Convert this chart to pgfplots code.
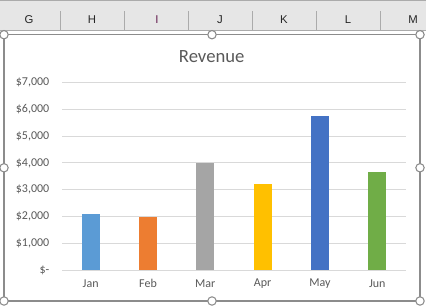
\documentclass[border=0pt]{standalone}
\usepackage{pgfplots}
\pgfplotsset{compat=1.18}
\usepackage{fontspec}
\setmainfont{Carlito}
\newfontfamily\hdrfont{Liberation Sans}
\definecolor{txt}{HTML}{595959}
\definecolor{gridc}{HTML}{D9D9D9}
\definecolor{hdrbg}{HTML}{E6E6E6}
\definecolor{hdrline}{HTML}{ABABAB}
\definecolor{border}{HTML}{8C8C8C}
\definecolor{cJan}{HTML}{5B9BD5}
\definecolor{cFeb}{HTML}{ED7D31}
\definecolor{cMar}{HTML}{A5A5A5}
\definecolor{cApr}{HTML}{FFC000}
\definecolor{cMay}{HTML}{4472C4}
\definecolor{cJun}{HTML}{70AD47}
\begin{document}
\begin{tikzpicture}
\path[use as bounding box,fill=white] (0,0) rectangle (319.5pt,-230.25pt);
\begin{scope}[x=0.75pt,y=-0.75pt]
% Excel column header band
\fill[hdrbg] (0,0) rectangle (426,30);
\draw[hdrline,line width=0.75pt] (0,0.5) -- (426,0.5);
\draw[hdrline,line width=0.75pt] (0,30) -- (426,30);
\foreach \xx in {60,124,188,252,316,380}{\draw[hdrline,line width=0.6pt] (\xx,11) -- (\xx,30);}
\foreach \xx/\ll in {29/G,92/H,220/J,284/K,348/L,413/M}{\node[font=\hdrfont\fontsize{8.5}{10}\selectfont,text=black!85] at (\xx,20) {\ll};}
\node[font=\hdrfont\fontsize{8.5}{10}\selectfont,text={rgb,255:red,100;green,30;blue,80}] at (157,20) {I};
% chart border
\draw[border,line width=0.8pt] (4,34.7) rectangle (420,301);
% title
\node[font=\fontsize{14}{16}\selectfont,text=txt,anchor=base] at (211.7,62.3) {Revenue};
\end{scope}
\begin{axis}[
  at={(46.5pt,-202.5pt)}, anchor=south west,
  scale only axis, width=258pt, height=140.5pt,
  xmin=-0.5, xmax=5.5, ymin=0, ymax=7000,
  axis line style={draw=none}, tick style={draw=none},
  xmajorgrids=false, ymajorgrids=true,
  major grid style={draw=gridc,line width=0.75pt},
  ytick={0,1000,2000,3000,4000,5000,6000,7000},
  yticklabels={\$-\hspace{3.75pt},{\$1,000},{\$2,000},{\$3,000},{\$4,000},{\$5,000},{\$6,000},{\$7,000}},
  xtick={0,1,2,3,4,5},
  xticklabels={Jan,Feb,Mar,Apr,May,Jun},
  ticklabel style={font=\fontsize{9}{10}\selectfont,text=txt},
  yticklabel style={anchor=east,xshift=-6pt},
  xticklabel style={anchor=center,yshift=-6pt},
  ybar, bar width=13.5pt, bar shift=0pt,
  clip=false,
]
\addplot[fill=cJan,draw=none] coordinates {(0,2090)};
\addplot[fill=cFeb,draw=none] coordinates {(1,1980)};
\addplot[fill=cMar,draw=none] coordinates {(2,4000)};
\addplot[fill=cApr,draw=none] coordinates {(3,3210)};
\addplot[fill=cMay,draw=none] coordinates {(4,5760)};
\addplot[fill=cJun,draw=none] coordinates {(5,3660)};
\end{axis}
\begin{scope}[x=0.75pt,y=-0.75pt]
\foreach \hx/\hy in {4/34.7,212/34.7,420/34.7,4/167.8,420/167.8,4/301,212/301,420/301}{
  \draw[border,fill=white,line width=0.8pt] (\hx,\hy) circle (4.2);}
\end{scope}
\end{tikzpicture}
\end{document}
